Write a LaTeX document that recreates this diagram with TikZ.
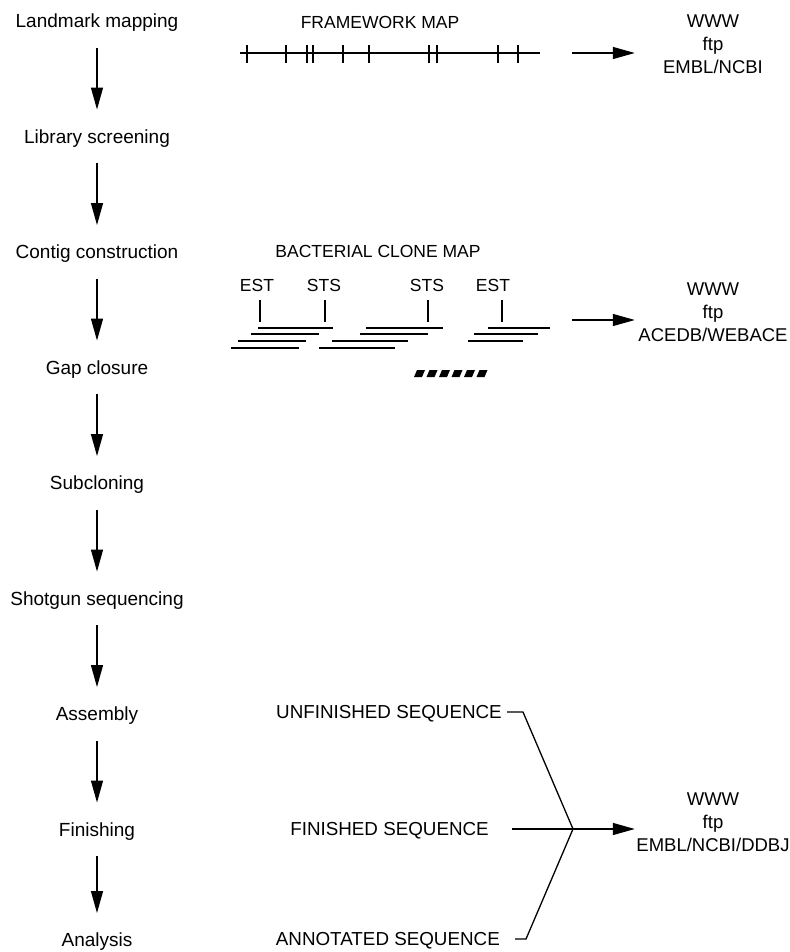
\documentclass[tikz,border=0pt]{standalone}
\usepackage{fontspec}
\setmainfont{Liberation Sans}
\usetikzlibrary{positioning}
\usetikzlibrary{arrows.meta}
\usetikzlibrary{calc}
\tikzstyle{stage}=[font=\fontsize{19}{23}\selectfont, text height=13.5pt, text depth=0pt, inner xsep=0pt, inner ysep=20pt]
\tikzstyle{maptitle}=[font=\fontsize{17.5}{20}\selectfont, inner sep=0pt]
\tikzstyle{tag}=[font=\fontsize{17.5}{20}\selectfont, text height=12.5pt, text depth=0pt, inner xsep=0pt, inner ysep=8pt]
\tikzstyle{dbnode}=[font=\fontsize{18.5}{23}\selectfont, align=center, text width=156pt, inner sep=0pt]
\tikzstyle{seqnode}=[font=\fontsize{18.8}{20}\selectfont, text height=13.5pt, text depth=0pt, inner xsep=5pt, inner ysep=0pt, anchor=east]
\tikzstyle{edge} = [draw, line width=1.3pt, -{Triangle[length=22pt,width=12pt]}]
\tikzstyle{mapline} = [draw, line width=1.4pt]
\tikzstyle{marker} = [draw, line width=1.2pt]
\tikzstyle{clone} = [draw, line width=1.1pt]
\tikzstyle{bracket} = [draw, line width=1.3pt, line join=miter]

\begin{document}
\begin{tikzpicture}[x=1pt, y=-1pt]
    \useasboundingbox (0,0) rectangle (789,952);

    % stages down the left
    \foreach \y/\name/\text in {21/landmark/Landmark mapping, 136.5/library/Library screening, 252/contig/Contig construction, 367.5/gap/Gap closure, 483/subclone/Subcloning, 598.5/shotgun/Shotgun sequencing, 714/assembly/Assembly, 829.5/finishing/Finishing, 940/analysis/Analysis}
        \node[stage] (\name) at (97,\y) {\text};

    \foreach \source/\dest in {landmark/library, library/contig, contig/gap, gap/subclone, subclone/shotgun, shotgun/assembly, assembly/finishing, finishing/analysis}
        \path[edge] (\source) -- (\dest);

    % framework map
    \node[maptitle] (fwtitle) at (380,22) {FRAMEWORK MAP};
    \coordinate (fwstart) at (240,53);
    \coordinate (fwend) at (540,53);
    \path[mapline] (fwstart) -- (fwend);
    \foreach \x in {247,286,307,313,343,369,429,437,498,518}
        \path[marker] (\x,45) -- (\x,63);

    \node[dbnode] (fwdb) at (713,44) {WWW\\ftp\\EMBL/NCBI};
    \coordinate (fwout) at (572,53);
    \path[edge] (fwout) -- (fwout -| fwdb.west);

    % bacterial clone map
    \node[maptitle] (clonetitle) at (378,251) {BACTERIAL CLONE MAP};
    \foreach \x/\name/\text in {257/est1/EST, 324/sts1/STS, 427/sts2/STS, 493/est2/EST}
        \node[tag] (\name) at (\x,285) {\text};
    \foreach \x in {260,325,428,502}
        \path[marker] (\x,300) -- (\x,322);

    \foreach \a/\b/\y in {258/333/328, 366/443/328, 488/550/328, 251/319/334, 360/428/334, 474/538/334, 238/306/341, 332/408/341, 468/523/341, 231/299/348, 319/395/348}
        \path[clone] (\a,\y) -- (\b,\y);
    \foreach \x in {414,426.5,...,480}
        \fill (\x,377) -- ++(8,0) -- ++(3,-7) -- ++(-8,0) -- cycle;

    \node[dbnode] (clonedb) at (713,312) {WWW\\ftp\\ACEDB/WEBACE};
    \coordinate (cloneout) at (572,320);
    \path[edge] (cloneout) -- (cloneout -| clonedb.west);

    % sequences
    \node[seqnode] (unfinished) at (507,712) {UNFINISHED SEQUENCE};
    \node[seqnode] (finished) at (494,829) {FINISHED SEQUENCE};
    \node[seqnode] (annotated) at (505,939) {ANNOTATED SEQUENCE};
    \coordinate (join) at (573,829);
    \node[dbnode] (seqdb) at (713,822) {WWW\\ftp\\EMBL/NCBI/DDBJ};

    \path[bracket, shorten >=10pt] (unfinished.east) -- ++(16,0) -- (join) -- ++(-47,110) -- (annotated.east);
    \path[edge, shorten <=18pt] (finished.east) -- (finished.east -| seqdb.west);

\end{tikzpicture}
\end{document}
